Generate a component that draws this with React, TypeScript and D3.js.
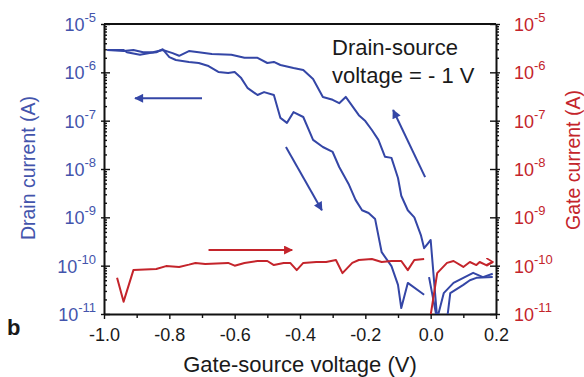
import React, { useEffect, useRef } from "react";
import * as d3 from "d3";

// drain current, sweep toward negative gate voltage (upper branch)
const sweepDownV = [-0.99, -0.94, -0.91, -0.88, -0.85, -0.82, -0.79, -0.77, -0.74, -0.71, -0.67, -0.61, -0.57, -0.53, -0.5, -0.48, -0.46, -0.42, -0.39, -0.38, -0.36, -0.33, -0.3, -0.28, -0.26, -0.22, -0.2, -0.18, -0.16, -0.14, -0.12, -0.1, -0.09, -0.07, -0.05, -0.03, -0.02, -0.01, 0.0, 0.02, 0.04, 0.07, 0.1, 0.13, 0.16, 0.19];
const sweepDownI = [2.9e-6, 2.75e-6, 2.9e-6, 2.6e-6, 2.6e-6, 2.9e-6, 2.5e-6, 2.2e-6, 2.75e-6, 2.6e-6, 2.4e-6, 2.3e-6, 2.0e-6, 2.0e-6, 1.56e-6, 1.64e-6, 1.42e-6, 1.23e-6, 1.12e-6, 9.7e-7, 7.3e-7, 3.1e-7, 2.7e-7, 2.3e-7, 3.1e-7, 1.3e-7, 9.8e-8, 6.4e-8, 4.0e-8, 1.8e-8, 1.7e-8, 6.5e-9, 2.8e-9, 1.4e-9, 1.0e-9, 4.3e-10, 2.3e-10, 2.8e-10, 3.4e-10, 8e-12, 2.7e-11, 4.4e-11, 5.6e-11, 7.1e-11, 5.8e-11, 6.8e-11];

// drain current, return sweep (lower branch)
const sweepUpV = [-0.99, -0.94, -0.93, -0.89, -0.86, -0.84, -0.82, -0.8, -0.78, -0.74, -0.71, -0.68, -0.65, -0.62, -0.6, -0.58, -0.56, -0.53, -0.51, -0.48, -0.46, -0.44, -0.42, -0.39, -0.36, -0.33, -0.3, -0.28, -0.25, -0.23, -0.21, -0.19, -0.17, -0.15, -0.12, -0.1, -0.09, -0.07, -0.02];
const sweepUpI = [2.9e-6, 2.9e-6, 2.6e-6, 2.3e-6, 2.5e-6, 2.6e-6, 3.0e-6, 2.07e-6, 1.8e-6, 1.64e-6, 1.56e-6, 1.35e-6, 1.02e-6, 9.7e-7, 1.02e-6, 7.6e-7, 4.7e-7, 3.4e-7, 3.9e-7, 3.4e-7, 1.14e-7, 9.0e-8, 1.5e-7, 1.19e-7, 4.0e-8, 2.85e-8, 2.25e-8, 1.1e-8, 4.7e-9, 2.3e-9, 1.4e-9, 1.23e-9, 9.2e-10, 1.9e-10, 9.8e-11, 4.0e-11, 1.33e-11, 4.4e-11, 2.5e-11];

// drain current near zero bias
const tailV = [-0.005, 0.02, 0.05, 0.06, 0.1, 0.12, 0.14, 0.19];
const tailI = [5.8e-11, 7.5e-12, 7.5e-12, 2.7e-11, 4.0e-11, 5.0e-11, 5.6e-11, 5.8e-11];

// gate current
const gateLeftV = [-0.96, -0.94, -0.91, -0.84, -0.81, -0.77, -0.74, -0.72, -0.69, -0.62, -0.6, -0.57, -0.53, -0.5, -0.48, -0.45, -0.43, -0.41, -0.39, -0.35, -0.32, -0.29, -0.27, -0.24, -0.22, -0.18, -0.15, -0.12, -0.09, -0.07, -0.05, -0.02];
const gateLeftI = [5.6e-11, 1.8e-11, 8.1e-11, 8.5e-11, 9.8e-11, 9.4e-11, 1.05e-10, 1.14e-10, 1.08e-10, 1.14e-10, 1.0e-10, 1.14e-10, 1.25e-10, 1.25e-10, 1.03e-10, 1.14e-10, 1.14e-10, 8.1e-11, 1.14e-10, 1.19e-10, 1.19e-10, 1.31e-10, 7.0e-11, 1.14e-10, 1.31e-10, 1.37e-10, 1.19e-10, 1.25e-10, 1.25e-10, 8.1e-11, 1.31e-10, 1.37e-10];
const gateRightV = [0.0, 0.02, 0.05, 0.07, 0.1, 0.12, 0.14, 0.15, 0.17, 0.19];
const gateRightI = [9.5e-12, 7.0e-11, 1.14e-10, 1.25e-10, 9.4e-11, 1.19e-10, 1.03e-10, 1.19e-10, 1.03e-10, 1.19e-10];

const xTicks = [-1.0, -0.8, -0.6, -0.4, -0.2, 0.0, 0.2];
const xMinor = [-0.9, -0.7, -0.5, -0.3, -0.1, 0.1];
const decades = [-11, -10, -9, -8, -7, -6, -5];

// direction arrows [v0, i0, v1, i1]
const blueArrows = [
  [-0.7, 2.9e-7, -0.905, 2.9e-7],
  [-0.443, 2.85e-8, -0.333, 1.4e-9],
  [-0.017, 6.8e-9, -0.115, 1.66e-7],
];
const redArrows = [[-0.68, 2.1e-10, -0.424, 2.1e-10]];

const BLUE = "#3446a6";
const BLUE_TEXT = "#4354ac";
const RED = "#c4242b";
const FONT = "'Liberation Sans', Arial, Helvetica, sans-serif";

export default function App() {
  const ref = useRef<SVGSVGElement>(null);

  useEffect(() => {
    if (!ref.current) return;
    const svg = d3.select(ref.current);
    svg.selectAll("*").remove();

    const left = 104, right = 496, top = 24, bottom = 314;
    const x = d3.scaleLinear().domain([-1, 0.2]).range([left, right]);
    const y = d3.scaleLog().domain([1e-11, 1e-5]).range([bottom, top]);
    const yR = d3.scaleLog().domain([1e-11, 1e-5]).range([bottom, top]);

    const minors: number[] = [];
    for (let k = -11; k < -5; k++) for (let m = 2; m <= 9; m++) minors.push(m * Math.pow(10, k));

    const defs = svg.append("defs");
    defs.append("clipPath").attr("id", "plot")
      .append("rect").attr("x", left).attr("y", top)
      .attr("width", right - left).attr("height", bottom - top);
    const head = (id: string, color: string) =>
      defs.append("marker").attr("id", id)
        .attr("viewBox", "0 0 10 10").attr("refX", 9).attr("refY", 5)
        .attr("markerUnits", "userSpaceOnUse")
        .attr("markerWidth", 11).attr("markerHeight", 9)
        .attr("orient", "auto")
        .append("path").attr("d", "M0,0 L10,5 L0,10 Z").attr("fill", color);
    head("ab", BLUE);
    head("ar", RED);
    defs.append("marker").attr("id", "chev")
      .attr("viewBox", "0 0 10 10").attr("refX", 9).attr("refY", 5)
      .attr("markerUnits", "userSpaceOnUse")
      .attr("markerWidth", 8).attr("markerHeight", 9).attr("orient", "auto")
      .append("path").attr("d", "M1,0 L9,5 L1,10").attr("fill", "none")
      .attr("stroke", RED).attr("stroke-width", 2);

    // axes
    const tickStyle = (g: any) => {
      g.selectAll("line").attr("stroke", "#111").attr("stroke-width", 1.4);
      g.select(".domain").attr("stroke", "#111").attr("stroke-width", 2);
    };

    const gx = svg.append("g").attr("transform", `translate(0,${bottom})`)
      .call(d3.axisBottom(x).tickValues(xTicks).tickSize(5).tickSizeOuter(0).tickPadding(9)
        .tickFormat((d: any) => (Math.abs(d) < 1e-9 ? "0.0" : d.toFixed(1))));
    gx.call(tickStyle);
    gx.selectAll("text").attr("font-family", FONT).attr("font-size", 18).attr("fill", "#1a1a1a");
    svg.append("g").attr("transform", `translate(0,${bottom})`)
      .call(d3.axisBottom(x).tickValues(xMinor).tickSize(4).tickFormat(() => ""))
      .call((g: any) => g.select(".domain").remove())
      .call(tickStyle);

    const gl = svg.append("g").attr("transform", `translate(${left},0)`)
      .call(d3.axisLeft(y).tickValues(decades.map((k) => Math.pow(10, k))).tickSize(-6).tickSizeOuter(0).tickFormat(() => ""));
    gl.call(tickStyle);
    gl.selectAll(".tick line").attr("x1", -3);
    svg.append("g").attr("transform", `translate(${left},0)`)
      .call(d3.axisLeft(y).tickValues(minors).tickSize(-3).tickFormat(() => ""))
      .call((g: any) => g.select(".domain").remove())
      .call(tickStyle);

    const gr = svg.append("g").attr("transform", `translate(${right},0)`)
      .call(d3.axisRight(yR).tickValues(decades.map((k) => Math.pow(10, k))).tickSize(-6).tickSizeOuter(0).tickFormat(() => ""));
    gr.call(tickStyle);
    gr.selectAll(".tick line").attr("x1", 4);
    svg.append("g").attr("transform", `translate(${right},0)`)
      .call(d3.axisRight(yR).tickValues(minors).tickSize(3).tickFormat(() => ""))
      .call((g: any) => g.select(".domain").remove())
      .call(tickStyle);

    svg.append("line").attr("x1", left).attr("x2", right).attr("y1", top).attr("y2", top)
      .attr("stroke", "#111").attr("stroke-width", 2);

    // decade labels with superscripts
    const decadeLabel = (xPos: number, anchor: string, color: string, scale: any) => {
      decades.forEach((k) => {
        const t = svg.append("text").attr("x", xPos).attr("y", scale(Math.pow(10, k)) + 7)
          .attr("text-anchor", anchor).attr("font-family", FONT).attr("fill", color);
        t.append("tspan").attr("font-size", 18).text("10");
        t.append("tspan").attr("font-size", 13).attr("dy", -9).text(String(k));
      });
    };
    decadeLabel(96, "end", BLUE_TEXT, y);
    decadeLabel(514, "start", RED, yR);

    // axis titles
    svg.append("text").attr("transform", "translate(35,168) rotate(-90)")
      .attr("text-anchor", "middle").attr("font-family", FONT).attr("font-size", 19.5)
      .attr("fill", BLUE_TEXT).text("Drain current (A)");
    svg.append("text").attr("transform", "translate(580,160) rotate(-90)")
      .attr("text-anchor", "middle").attr("font-family", FONT).attr("font-size", 19.5)
      .attr("fill", RED).text("Gate current (A)");
    svg.append("text").attr("x", 300).attr("y", 372)
      .attr("text-anchor", "middle").attr("font-family", FONT).attr("font-size", 22)
      .attr("fill", "#1a1a1a").text("Gate-source voltage (V)");
    svg.append("text").attr("x", 7).attr("y", 335)
      .attr("font-family", FONT).attr("font-size", 22).attr("font-weight", "bold")
      .attr("fill", "#1a1a1a").text("b");
    const note = svg.append("text").attr("font-family", FONT).attr("font-size", 22).attr("fill", "#1a1a1a");
    note.append("tspan").attr("x", 332).attr("y", 55).text("Drain-source");
    note.append("tspan").attr("x", 332).attr("y", 83).text("voltage = - 1 V");

    // data
    const plot = svg.append("g").attr("clip-path", "url(#plot)");
    const lineL = d3.line<[number, number]>().x((d) => x(d[0])).y((d) => y(d[1]));
    const lineR = d3.line<[number, number]>().x((d) => x(d[0])).y((d) => yR(d[1]));
    const zip = (a: number[], b: number[]) => a.map((v, i) => [v, b[i]] as [number, number]);

    [zip(sweepDownV, sweepDownI), zip(sweepUpV, sweepUpI), zip(tailV, tailI)].forEach((pts) => {
      plot.append("path").attr("d", lineL(pts)).attr("fill", "none")
        .attr("stroke", BLUE).attr("stroke-width", 2).attr("stroke-linejoin", "round");
    });
    plot.append("path").attr("d", lineR(zip(gateLeftV, gateLeftI))).attr("fill", "none")
      .attr("stroke", RED).attr("stroke-width", 2).attr("stroke-linejoin", "round");
    svg.append("path").attr("d", lineR(zip(gateRightV, gateRightI))).attr("fill", "none")
      .attr("clip-path", "url(#plot)")
      .attr("stroke", RED).attr("stroke-width", 2).attr("stroke-linejoin", "round");

    blueArrows.forEach((a) => {
      svg.append("line").attr("x1", x(a[0])).attr("y1", y(a[1])).attr("x2", x(a[2])).attr("y2", y(a[3]))
        .attr("stroke", BLUE).attr("stroke-width", 2).attr("marker-end", "url(#ab)");
    });
    redArrows.forEach((a) => {
      svg.append("line").attr("x1", x(a[0])).attr("y1", yR(a[1])).attr("x2", x(a[2])).attr("y2", yR(a[3]))
        .attr("stroke", RED).attr("stroke-width", 2).attr("marker-end", "url(#ar)");
    });
    // small open arrowhead at the end of the gate trace
    const n = gateRightV.length;
    svg.append("line")
      .attr("x1", x(gateRightV[n - 2])).attr("y1", yR(gateRightI[n - 1]))
      .attr("x2", x(gateRightV[n - 1])).attr("y2", yR(gateRightI[n - 1]))
      .attr("stroke", "none").attr("marker-end", "url(#chev)");
  }, []);

  return (
    <svg ref={ref} width={584} height={377}
      style={{ position: "absolute", left: 0, top: 0, background: "#fff" }} />
  );
}
